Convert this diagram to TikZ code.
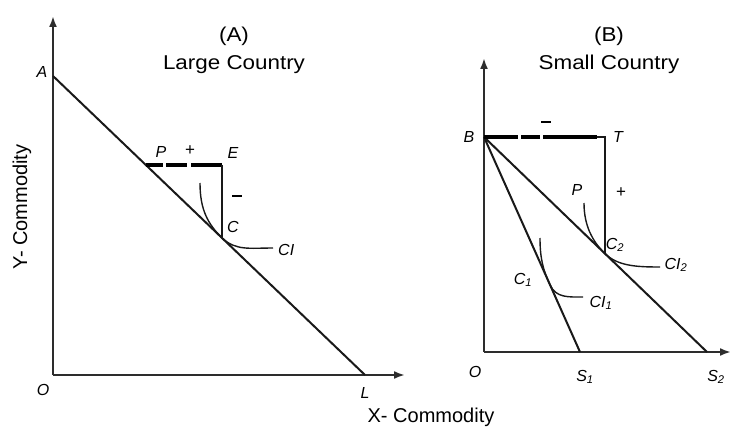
\documentclass[tikz,border=0pt]{standalone}
\usepackage{fontspec}
\setmainfont{Liberation Sans}
\newfontfamily\widefont[FakeStretch=1.12]{Liberation Sans}
\usepackage{tikz}
\usetikzlibrary{arrows.meta}
\definecolor{axisGray}{RGB}{45,45,45}
\definecolor{inkGray}{RGB}{25,25,25}

\begin{document}
\begin{tikzpicture}[x=1pt,y=-1pt,
    axis/.style={axisGray, line width=2pt, -{Latex[length=11pt,width=8pt]}},
    budget/.style={inkGray, line width=2pt},
    icurve/.style={inkGray, line width=1.4pt},
    guide/.style={inkGray, line width=1.3pt},
    trade/.style={black, line width=3.4pt},
    lbl/.style={font=\fontsize{16}{18}\selectfont\itshape, inner sep=1pt},
    sign/.style={font=\fontsize{17}{18}\selectfont, inner sep=1pt},
    title/.style={font=\widefont\fontsize{20}{28}\selectfont, align=center},
    axlabel/.style={font=\fontsize{20}{24}\selectfont}]
    \useasboundingbox (0,0) rectangle (731,428);

    % ---------------- panel A ----------------
    \coordinate (oA) at (53,375);
    \coordinate (yA) at (53,16);
    \coordinate (xA) at (405,375);
    \coordinate (a) at (53,76);
    \coordinate (l) at (365,375);
    \coordinate (p) at (146,165);
    \coordinate (e) at (222,165);
    \coordinate (c) at (222,238);
    \coordinate (ciTop) at (200,183);
    \coordinate (ciEnd) at (273,248);

    % axes
    \draw[axis] (oA) -- (yA);
    \draw[axis] (oA) -- (xA);

    % price line, trade triangle, indifference curve
    \draw[budget] (a) -- (l);
    \draw[trade, dash pattern=on 17pt off 3pt on 21pt off 4pt on 40pt] (p) -- (e);
    \draw[guide] (e) -- (c);
    \draw[icurve] (ciTop) .. controls (200,210) and (208,224) .. (c)
        .. controls (236,251) and (250,248) .. (ciEnd);

    % labels
    \node[title] (titleA) at (234,50) {(A)\\Large Country};
    \node[lbl] (lblA) at (42,72) {A};
    \node[lbl] (lblOA) at (43,390) {O};
    \node[lbl] (lblL) at (365,393) {L};
    \node[lbl] (lblP) at (161,152) {P};
    \node[sign] (plusA) at (190,151) {+};
    \node[lbl] (lblE) at (233,153) {E};
    \node[sign] (minusA) at (237,196) {\rule{10pt}{1.3pt}};
    \node[lbl] (lblC) at (233,227) {C};
    \node[lbl, anchor=west] (lblCI) at (277,250) {CI};

    % ---------------- panel B ----------------
    \coordinate (oB) at (484,352);
    \coordinate (yB) at (484,58);
    \coordinate (xB) at (731,352);
    \coordinate (b) at (484,137);
    \coordinate (s1) at (580,352);
    \coordinate (s2) at (707,352);
    \coordinate (tEnd) at (597,137);
    \coordinate (t) at (605,137);
    \coordinate (c1) at (550,284.8);
    \coordinate (c2) at (605,253.7);
    \coordinate (ci1Top) at (540,238);
    \coordinate (ci1End) at (583,297);
    \coordinate (ci2Top) at (584,203);
    \coordinate (ci2End) at (660,267);

    % axes
    \draw[axis] (oB) -- (yB);
    \draw[axis] (oB) -- (xB);

    % price lines, trade triangle, indifference curves
    \draw[budget] (b) -- (s1);
    \draw[budget] (b) -- (s2);
    \draw[trade, dash pattern=on 34pt off 3pt on 19pt off 3pt on 60pt] (b) -- (tEnd);
    \draw[guide] (tEnd) -- (t) -- (c2);
    \draw[icurve] (ci1Top) .. controls (540,258) and (543,270) .. (c1)
        .. controls (556,298) and (568,297) .. (ci1End);
    \draw[icurve] (ci2Top) .. controls (584,225) and (592,241) .. (c2)
        .. controls (618,266) and (636,267) .. (ci2End);

    % labels
    \node[title] (titleB) at (609,50) {(B)\\Small Country};
    \node[lbl] (lblB) at (469,137) {B};
    \node[lbl] (lblT) at (618,137) {T};
    \node[sign] (minusB) at (546,122) {\rule{10pt}{1.3pt}};
    \node[lbl] (lblPB) at (577,190) {P};
    \node[sign] (plusB) at (621,193) {+};
    \node[lbl] (lblC2) at (615,245) {C\textsubscript{2}};
    \node[lbl] (lblCI2) at (676,265) {CI\textsubscript{2}};
    \node[lbl] (lblC1) at (523,280) {C\textsubscript{1}};
    \node[lbl] (lblCI1) at (601,303) {CI\textsubscript{1}};
    \node[lbl] (lblOB) at (475,372) {O};
    \node[lbl] (lblS1) at (585,377) {S\textsubscript{1}};
    \node[lbl] (lblS2) at (716,377) {S\textsubscript{2}};

    % axis titles
    \node[axlabel, rotate=90] (yTitle) at (22,207) {Y- Commodity};
    \node[axlabel] (xTitle) at (431,417) {X- Commodity};
\end{tikzpicture}
\end{document}
